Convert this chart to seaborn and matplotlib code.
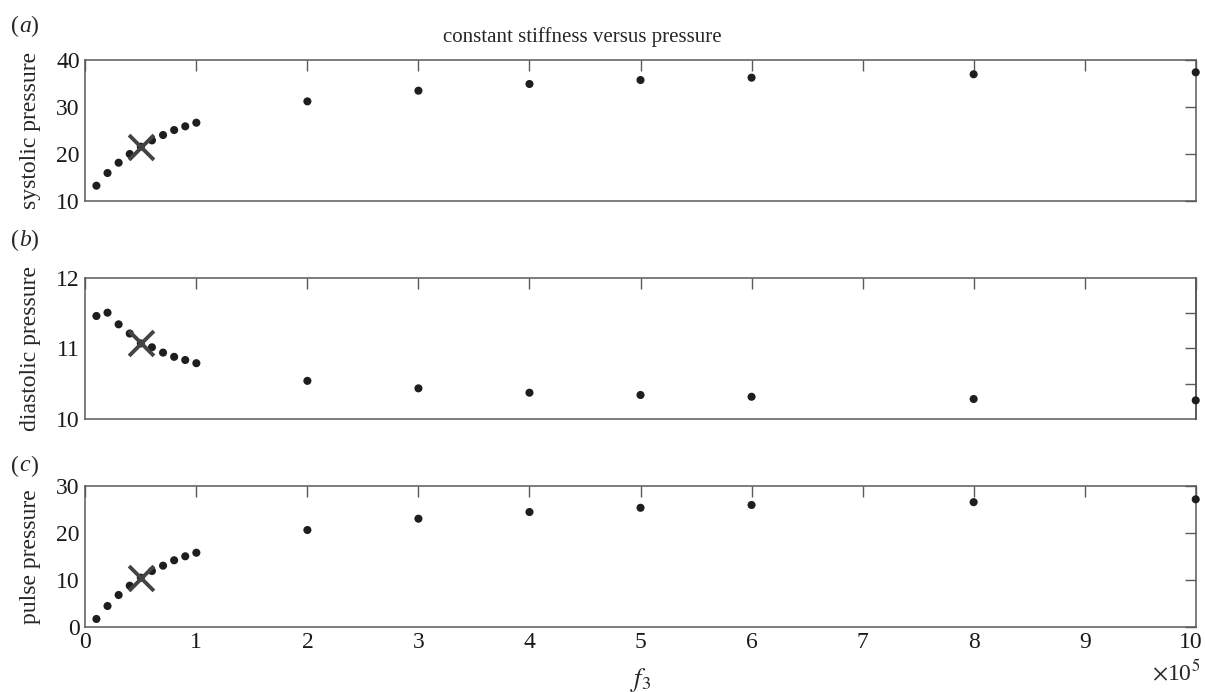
import matplotlib
matplotlib.use("Agg")
import matplotlib.pyplot as plt
import matplotlib.transforms as mtransforms
import seaborn as sns
import pandas as pd
from matplotlib.ticker import FuncFormatter, FixedLocator

# ---- data ----
f3 = [1e4, 2e4, 3e4, 4e4, 5e4, 6e4, 7e4, 8e4, 9e4, 1e5,
      2e5, 3e5, 4e5, 5e5, 6e5, 8e5, 1e6]
systolic = [13.26, 15.96, 18.15, 20.0, 21.56, 22.9, 24.04, 25.1, 25.89, 26.66,
            31.2, 33.47, 34.9, 35.74, 36.24, 36.96, 37.38]
diastolic = [11.458, 11.505, 11.34, 11.21, 11.07, 11.015, 10.94, 10.88, 10.835, 10.79,
             10.54, 10.434, 10.372, 10.34, 10.315, 10.283, 10.264]
pulse = [1.64, 4.4, 6.74, 8.72, 10.43, 11.85, 12.98, 14.13, 14.98, 15.74,
         20.57, 22.98, 24.4, 25.3, 25.9, 26.5, 27.1]
mark_f3 = [5e4]
mark_sys = [21.56]
mark_dia = [11.07]
mark_pulse = [10.43]

ylabels = ["systolic pressure", "diastolic pressure", "pulse pressure"]
panel_letters = ["a", "b", "c"]
ylims = [(10, 40), (10, 12), (0, 30)]
yticks = [[10, 20, 30, 40], [10, 11, 12], [0, 10, 20, 30]]
xticks = [0, 1e5, 2e5, 3e5, 4e5, 5e5, 6e5, 7e5, 8e5, 9e5, 1e6]
title = "constant stiffness versus pressure"

sns.set_theme(style="white")
plt.rcParams["font.family"] = ["Liberation Serif", "DejaVu Serif"]
plt.rcParams["mathtext.fontset"] = "stix"

df = pd.DataFrame({"f3": f3, "sys": systolic, "dia": diastolic, "pulse": pulse})
dm = pd.DataFrame({"f3": mark_f3, "sys": mark_sys, "dia": mark_dia, "pulse": mark_pulse})
cols = ["sys", "dia", "pulse"]

fig = plt.figure(figsize=(12.05, 6.92), dpi=100)
boxes = [(0.0708, 0.7095, 0.9215, 0.2038),
         (0.0708, 0.3945, 0.9215, 0.2042),
         (0.0708, 0.0944, 0.9215, 0.2037)]
tag_y = [1.235, 1.265, 1.14]
spine_col = "#5a5a5a"
FS = 17
for i, (col, box) in enumerate(zip(cols, boxes)):
    ax = fig.add_axes(box)
    sns.scatterplot(data=df, x="f3", y=col, ax=ax, color="#1e1e1e", s=34,
                    edgecolor="none", zorder=3, clip_on=False)
    sns.scatterplot(data=dm, x="f3", y=col, ax=ax, color="#444444", marker="x",
                    s=320, linewidth=2.8, zorder=4)
    ax.set_xlim(0, 1e6)
    ax.set_ylim(*ylims[i])
    ax.set_yticks(yticks[i])
    ax.xaxis.set_major_locator(FixedLocator(xticks))
    ax.set_ylabel(ylabels[i], fontsize=FS, labelpad=11)
    ax.set_xlabel("")
    for sp in ax.spines.values():
        sp.set_color(spine_col)
        sp.set_linewidth(1.1)
        sp.set_visible(True)
    ax.tick_params(axis="both", direction="in", length=8, width=1.0,
                   color=spine_col, labelsize=FS, top=True,
                   right=(i != 1), pad=4, labelcolor="#1a1a1a")
    if i == 1:
        sec = ax.secondary_yaxis("right")
        sec.set_yticks([10.5, 11, 11.5])
        sec.tick_params(direction="in", length=8, width=1.0, color=spine_col,
                        labelright=False)
        sec.spines["right"].set_color(spine_col)
    if i < 2:
        ax.tick_params(labelbottom=False)
    else:
        ax.xaxis.set_major_formatter(FuncFormatter(lambda v, p: f"{v/1e5:g}"))
        ax.set_xlabel("$f_3$", fontsize=19, labelpad=9)
        fig.canvas.draw()
        last = ax.get_xticklabels()[-1]
        last.set_transform(last.get_transform() +
                           mtransforms.ScaledTranslation(-5 / 100, 0, fig.dpi_scale_trans))
    ax.text(-0.067, tag_y[i], "(", transform=ax.transAxes, fontsize=FS, va="center")
    ax.text(-0.0595, tag_y[i], panel_letters[i], transform=ax.transAxes, fontsize=FS,
            va="center", style="italic")
    ax.text(-0.0495, tag_y[i], ")", transform=ax.transAxes, fontsize=FS, va="center")
    if i == 0:
        ax.text(0.448, 1.16, title, transform=ax.transAxes, fontsize=15,
                ha="center", va="center")
    if i == 2:
        ax.text(1.004, -0.32, r"$\times$10$^5$", transform=ax.transAxes,
                fontsize=FS, ha="right", va="center")

fig.savefig("out.png", dpi=100)
